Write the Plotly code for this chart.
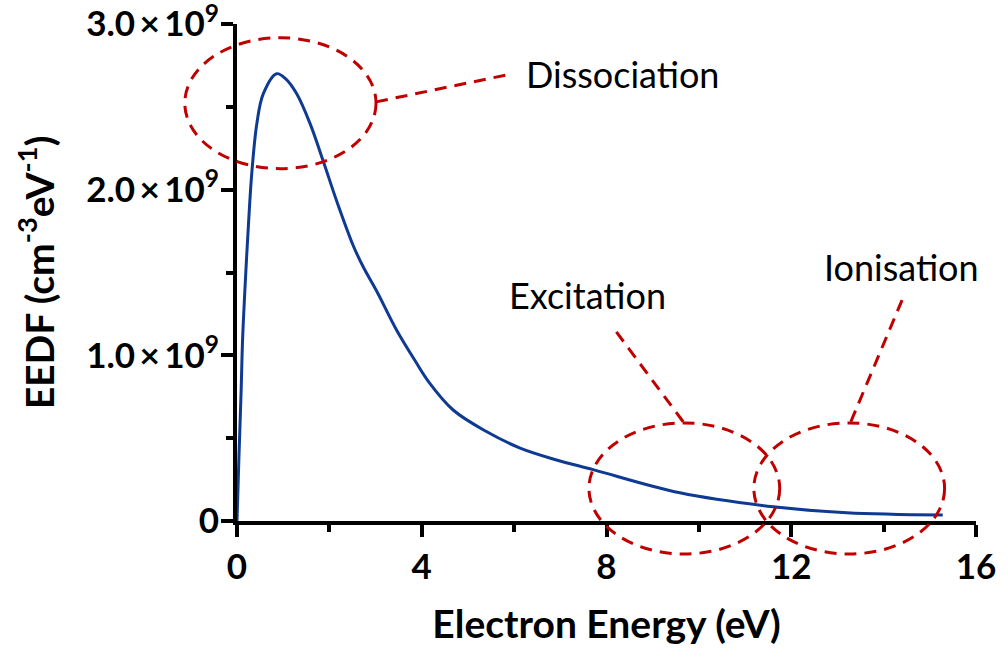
import plotly.graph_objects as go

# ---- data ----
energy_eV = [0, 0.04, 0.09, 0.12, 0.17, 0.25, 0.32, 0.43, 0.57, 0.86, 1.05,
             1.29, 1.58, 1.87, 2.16, 2.52, 2.74, 3.02, 3.46, 3.85, 4.15, 4.68,
             5.4, 6.13, 6.9, 7.71, 9.59, 11.61, 13.2, 15.28]
eedf_e9 = [0, 0.37, 0.79, 1.09, 1.39, 1.80, 2.10, 2.40, 2.58, 2.70, 2.67,
           2.58, 2.40, 2.17, 1.93, 1.66, 1.53, 1.39, 1.15, 0.97, 0.84, 0.67,
           0.54, 0.44, 0.37, 0.31, 0.17, 0.086, 0.05, 0.036]
eedf = [v * 1e9 for v in eedf_e9]

x_ticks = [0, 4, 8, 12, 16]
y_ticks = [0, 1e9, 2e9, 3e9]
y_ticktext = ["0", "1.0\u2009×\u200910<sup>9</sup>", "2.0\u2009×\u200910<sup>9</sup>",
              "3.0\u2009×\u200910<sup>9</sup>"]

X_RANGE = [0, 16]
Y_RANGE = [0, 3e9]

# annotation regions (energy, EEDF) : ellipse bounds
regions = ["Dissociation", "Excitation", "Ionisation"]
ell_x0 = [-1.13, 7.62, 11.19]
ell_x1 = [3.01, 11.75, 15.32]
ell_y0 = [2.127e9, -0.199e9, -0.199e9]
ell_y1 = [2.917e9, 0.592e9, 0.592e9]
# leader lines (start on ellipse -> end near label)
lead_x0 = [3.01, 9.66, 13.29]
lead_y0 = [2.53e9, 0.599e9, 0.599e9]
lead_x1 = [5.97, 8.14, 14.43]
lead_y1 = [2.70e9, 1.169e9, 1.354e9]
# label centres
lab_x = [8.35, 7.59, 14.38]
lab_y = [2.70e9, 1.364e9, 1.533e9]


def px(x):
    return (x - X_RANGE[0]) / (X_RANGE[1] - X_RANGE[0])


def py(y):
    return (y - Y_RANGE[0]) / (Y_RANGE[1] - Y_RANGE[0])


RED = "#c00000"
BLUE = "#0e3a94"
FONT = "Lato"

fig = go.Figure()
fig.add_trace(go.Scatter(
    x=energy_eV, y=eedf, mode="lines",
    line=dict(color=BLUE, width=3, shape="spline", smoothing=1.0),
    showlegend=False, hoverinfo="skip"))

dash = "12px,8px"
for i, name in enumerate(regions):
    fig.add_shape(type="circle", xref="paper", yref="paper",
                  x0=px(ell_x0[i]), x1=px(ell_x1[i]),
                  y0=py(ell_y0[i]), y1=py(ell_y1[i]),
                  line=dict(color=RED, width=3, dash=dash),
                  fillcolor="rgba(0,0,0,0)", layer="above")
    fig.add_shape(type="line", xref="paper", yref="paper",
                  x0=px(lead_x0[i]), y0=py(lead_y0[i]),
                  x1=px(lead_x1[i]), y1=py(lead_y1[i]),
                  line=dict(color=RED, width=3, dash=dash), layer="above")
    fig.add_annotation(x=lab_x[i], y=lab_y[i], xref="x", yref="y",
                       text=name, showarrow=False,
                       xanchor="center", yanchor="middle",
                       font=dict(family=FONT, size=36, color="black"))

axis_common = dict(
    showline=True, linewidth=4, linecolor="black", mirror=False,
    showgrid=False, zeroline=False, ticklabeloverflow="allow",
    automargin=False,
    ticks="outside", ticklen=12, tickwidth=4, tickcolor="black",
    tickfont=dict(family=FONT, size=35, color="black", weight="bold"),
)

fig.update_layout(
    width=1007, height=651,
    margin=dict(l=237, r=31, t=24, b=130),
    paper_bgcolor="white", plot_bgcolor="white",
    xaxis=dict(range=X_RANGE, tickvals=x_ticks,
               minor=dict(dtick=2, ticks="outside", ticklen=7, tickwidth=4,
                          tickcolor="black"),
               title=dict(text="Electron Energy (eV)", standoff=27,
                          font=dict(family=FONT, size=39, color="black",
                                    weight="bold")),
               **axis_common),
    yaxis=dict(range=Y_RANGE, tickvals=y_ticks, ticktext=y_ticktext,
               ticklabelstandoff=-5,
               minor=dict(dtick=0.5e9, ticks="outside", ticklen=7, tickwidth=4,
                          tickcolor="black"),
               title=dict(text="EEDF (cm<sup>-3</sup>eV<sup>-1</sup>)", standoff=21,
                          font=dict(family=FONT, size=39, color="black",
                                    weight="bold")),
               **axis_common),
)

fig.write_html("out.html")
